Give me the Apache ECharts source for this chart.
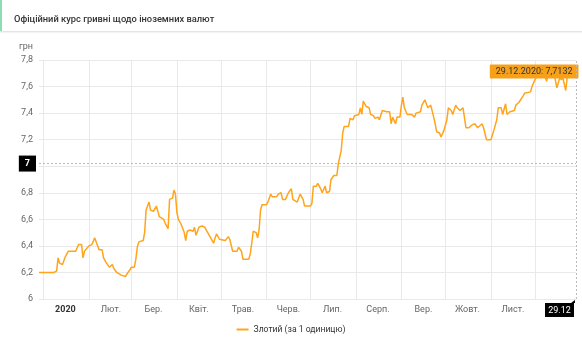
<!DOCTYPE html>
<html>
<head>
<meta charset="utf-8">
<script src="https://cdn.jsdelivr.net/npm/echarts@6/dist/echarts.min.js"></script>
<style>
html,body{margin:0;padding:0;background:#fff;}
#chart{width:582px;height:350px;}
</style>
</head>
<body>
<div id="chart"></div>
<script>
var titleText = 'Офіційний курс гривні щодо іноземних валют';
var seriesName = 'Злотий (за 1 одиницю)';
var unitLabel = 'грн';
var monthNames = ['2020','Лют.','Бер.','Квіт.','Трав.','Черв.','Лип.','Серп.','Вер.','Жовт.','Лист.','Груд.'];
var yTicks = [6, 6.2, 6.4, 6.6, 6.8, 7, 7.2, 7.4, 7.6, 7.8];
var startDate = '2019-12-29';
var endDate = '2020-12-29';
var lastLabel = '29.12.2020: 7,7132';
var pointerX = '2020-12-29';
var pointerXLabel = '29.12';
var pointerY = 7.02;
var pointerYLabel = '7';

var dates = [
'2019-12-29','2020-01-08','2020-01-10','2020-01-11','2020-01-12','2020-01-14','2020-01-16','2020-01-17','2020-01-18','2020-01-23',
'2020-01-24','2020-01-25','2020-01-27','2020-01-28','2020-01-29','2020-02-01','2020-02-03','2020-02-05','2020-02-06','2020-02-08',
'2020-02-10','2020-02-11','2020-02-13','2020-02-14','2020-02-15','2020-02-17','2020-02-18','2020-02-20','2020-02-21','2020-02-23',
'2020-02-26','2020-02-27','2020-02-29','2020-03-01','2020-03-03','2020-03-04','2020-03-05','2020-03-06','2020-03-09','2020-03-10',
'2020-03-11','2020-03-13','2020-03-14','2020-03-16','2020-03-18','2020-03-19','2020-03-20','2020-03-23','2020-03-24','2020-03-26',
'2020-03-27','2020-03-29','2020-03-30','2020-03-31','2020-04-01','2020-04-02','2020-04-03','2020-04-04','2020-04-06','2020-04-07',
'2020-04-08','2020-04-10','2020-04-12','2020-04-13','2020-04-14','2020-04-16','2020-04-18','2020-04-20','2020-04-22','2020-04-24',
'2020-04-26','2020-04-27','2020-04-28','2020-04-30','2020-05-04','2020-05-06','2020-05-07','2020-05-09','2020-05-12','2020-05-13',
'2020-05-15','2020-05-16','2020-05-20','2020-05-21','2020-05-22','2020-05-23','2020-05-25','2020-05-26','2020-05-27','2020-05-28',
'2020-05-29','2020-06-01','2020-06-02','2020-06-04','2020-06-05','2020-06-08','2020-06-09','2020-06-11','2020-06-12','2020-06-14',
'2020-06-16','2020-06-18','2020-06-19','2020-06-22','2020-06-23','2020-06-24','2020-06-26','2020-06-27','2020-07-01','2020-07-02',
'2020-07-03','2020-07-05','2020-07-06','2020-07-08','2020-07-09','2020-07-11','2020-07-12','2020-07-14','2020-07-15','2020-07-17',
'2020-07-19','2020-07-20','2020-07-22','2020-07-23','2020-07-24','2020-07-27','2020-07-28','2020-07-29','2020-07-30','2020-07-31',
'2020-08-03','2020-08-04','2020-08-05','2020-08-06','2020-08-08','2020-08-10','2020-08-11','2020-08-13','2020-08-14','2020-08-16',
'2020-08-17','2020-08-19','2020-08-22','2020-08-24','2020-08-25','2020-08-26','2020-08-28','2020-08-29','2020-08-31','2020-09-01',
'2020-09-02','2020-09-03','2020-09-05','2020-09-08','2020-09-10','2020-09-11','2020-09-14','2020-09-15','2020-09-17','2020-09-18',
'2020-09-19','2020-09-21','2020-09-23','2020-09-24','2020-09-25','2020-09-27','2020-09-28','2020-09-30','2020-10-01','2020-10-02',
'2020-10-03','2020-10-05','2020-10-06','2020-10-08','2020-10-09','2020-10-11','2020-10-13','2020-10-14','2020-10-15','2020-10-17',
'2020-10-19','2020-10-21','2020-10-23','2020-10-24','2020-10-26','2020-10-27','2020-10-28','2020-10-29','2020-11-01','2020-11-02',
'2020-11-03','2020-11-05','2020-11-06','2020-11-08','2020-11-09','2020-11-11','2020-11-12','2020-11-14','2020-11-15','2020-11-17',
'2020-11-18','2020-11-20','2020-11-21','2020-11-23','2020-11-24','2020-11-28','2020-11-29','2020-12-01','2020-12-03','2020-12-04',
'2020-12-07','2020-12-09','2020-12-10','2020-12-12','2020-12-14','2020-12-16','2020-12-18','2020-12-19','2020-12-20','2020-12-22',
'2020-12-23','2020-12-25','2020-12-29'
];
var values = [
6.20,6.20,6.21,6.31,6.27,6.26,6.32,6.34,6.36,6.36,
6.37,6.41,6.41,6.31,6.36,6.40,6.41,6.46,6.43,6.37,
6.37,6.31,6.27,6.28,6.24,6.26,6.23,6.20,6.19,6.18,
6.17,6.19,6.22,6.24,6.24,6.30,6.39,6.43,6.44,6.50,
6.67,6.73,6.67,6.66,6.70,6.66,6.62,6.60,6.57,6.53,
6.75,6.76,6.82,6.79,6.65,6.60,6.58,6.56,6.50,6.44,
6.51,6.52,6.51,6.54,6.48,6.54,6.55,6.54,6.50,6.46,
6.42,6.46,6.49,6.45,6.44,6.47,6.45,6.36,6.36,6.39,
6.36,6.30,6.30,6.34,6.42,6.51,6.50,6.46,6.52,6.67,
6.71,6.71,6.73,6.79,6.77,6.77,6.79,6.80,6.75,6.75,
6.80,6.83,6.75,6.73,6.73,6.79,6.75,6.70,6.70,6.72,
6.85,6.85,6.87,6.83,6.80,6.85,6.80,6.81,6.90,6.93,
6.93,7.02,7.12,7.25,7.30,7.30,7.36,7.37,7.35,7.38,
7.39,7.44,7.39,7.49,7.45,7.44,7.39,7.38,7.36,7.37,
7.35,7.42,7.41,7.41,7.32,7.37,7.32,7.37,7.37,7.46,
7.52,7.44,7.39,7.39,7.37,7.40,7.41,7.46,7.50,7.49,
7.44,7.46,7.37,7.32,7.26,7.25,7.22,7.27,7.31,7.35,
7.44,7.42,7.39,7.46,7.44,7.42,7.44,7.43,7.29,7.29,
7.31,7.32,7.29,7.29,7.32,7.29,7.29,7.20,7.20,7.20,
7.27,7.35,7.44,7.44,7.39,7.47,7.39,7.41,7.40,7.42,
7.46,7.48,7.48,7.53,7.55,7.56,7.60,7.65,7.70,7.71,
7.70,7.64,7.70,7.67,7.70,7.59,7.67,7.65,7.67,7.57,
7.67,7.67,7.7132
];

// daily category axis
function pad(n){return (n<10?'0':'')+n;}
var days = [];
(function(){
  var d = new Date(startDate + 'T00:00:00Z');
  var e = new Date(endDate + 'T00:00:00Z');
  while (d <= e) {
    days.push(d.getUTCFullYear() + '-' + pad(d.getUTCMonth()+1) + '-' + pad(d.getUTCDate()));
    d = new Date(d.getTime() + 86400000);
  }
})();

var seriesData = dates.map(function(dt, i){ return [dt, values[i]]; });

var chart = echarts.init(document.getElementById('chart'), null, {renderer: 'canvas'});
var FONT = 'Roboto, "Noto Sans", sans-serif';
var LINE = '#FFA41B';
var TIP = '#F7A11A';

var baseGraphic = [
  {type: 'rect', shape: {x: 0, y: 31, width: 582, height: 1}, style: {fill: '#e4e4e4'}, silent: true},
  {type: 'rect', shape: {x: 0, y: 32, width: 582, height: 1}, style: {fill: '#f3f3f3'}, silent: true},
  {type: 'rect', shape: {x: 0, y: 0, width: 2, height: 31}, style: {fill: '#8edbb5'}, silent: true}
];

chart.setOption({
  animation: false,
  textStyle: {fontFamily: FONT},
  title: {
    text: titleText,
    left: 9, top: 10,
    textStyle: {fontSize: 9.3, fontWeight: 500, color: '#333', fontFamily: FONT}
  },
  graphic: baseGraphic,
  grid: {left: 39, right: 6, top: 60, bottom: 51, containLabel: false},
  legend: {
    show: true,
    bottom: 11,
    left: 'center',
    icon: 'rect',
    itemWidth: 12,
    itemHeight: 2,
    itemGap: 6,
    textStyle: {fontSize: 8.6, color: '#333', fontFamily: FONT},
    data: [seriesName]
  },
  tooltip: {show: false},
  axisPointer: {triggerOn: 'none'},
  xAxis: {
    type: 'category',
    data: days,
    boundaryGap: false,
    axisLine: {show: false},
    axisTick: {show: false},
    splitLine: {
      show: true,
      interval: function(idx, val){ return val.slice(8) === '01' && val.slice(0,4) === '2020'; },
      lineStyle: {color: '#e9e9e9', width: 1}
    },
    axisLabel: {
      interval: function(idx, val){ return val.slice(8) === '16' && val.slice(5,7) !== '12'; },
      formatter: function(val){
        var m = parseInt(val.slice(5,7), 10) - 1;
        return m === 0 ? '{b|' + monthNames[0] + '}' : monthNames[m];
      },
      margin: 6,
      fontSize: 9,
      color: '#666',
      fontFamily: FONT,
      rich: {b: {fontWeight: 'bold', color: '#333', fontSize: 9, fontFamily: FONT}}
    },
    axisPointer: {
      show: true,
      status: 'show',
      value: pointerX,
      type: 'line',
      lineStyle: {color: '#bbb', type: [2, 2], width: 1},
      label: {show: false}
    }
  },
  yAxis: {
    type: 'value',
    min: yTicks[0],
    max: yTicks[yTicks.length-1],
    interval: 0.2,
    name: unitLabel,
    nameLocation: 'end',
    nameGap: 9,
    nameTextStyle: {fontSize: 9, color: '#666', align: 'right', padding: [0, 6, 0, 0], fontFamily: FONT},
    axisLine: {show: false},
    axisTick: {show: false},
    splitLine: {lineStyle: {color: '#e9e9e9', width: 1}},
    axisLabel: {
      fontSize: 9,
      color: '#666',
      margin: 6,
      fontFamily: FONT,
      formatter: function(v){ return (Math.round(v*10)/10).toString().replace('.', ','); }
    },
    axisPointer: {
      show: true,
      status: 'show',
      value: pointerY,
      type: 'line',
      lineStyle: {color: '#bbb', type: [2, 2], width: 1},
      label: {
        show: true,
        formatter: function(){ return pointerYLabel; },
        backgroundColor: '#000',
        color: '#fff',
        fontSize: 9,
        fontWeight: 'bold',
        fontFamily: FONT,
        padding: [4, 6, 3, 6],
        margin: 3,
        borderRadius: 0
      }
    }
  },
  series: [{
    name: seriesName,
    type: 'line',
    data: seriesData,
    showSymbol: false,
    symbol: 'none',
    lineStyle: {color: LINE, width: 1.5},
    itemStyle: {color: LINE},
    markPoint: {
      silent: true,
      data: [{
        coord: [dates[dates.length-1], values[values.length-1]],
        symbol: 'triangle',
        symbolSize: [8, 5],
        symbolRotate: -90,
        symbolOffset: [-1, 0],
        itemStyle: {color: TIP},
        label: {
          show: true,
          position: 'left',
          distance: 0,
          offset: [6, 0],
          formatter: function(){ return lastLabel; },
          backgroundColor: TIP,
          color: '#333',
          fontSize: 9,
          fontFamily: FONT,
          padding: [3, 6, 2, 6],
          borderRadius: 1
        }
      }]
    }
  }]
});

// x-axis crosshair label, positioned from the axis scale and confined to the chart
(function(){
  var px = chart.convertToPixel({xAxisIndex: 0}, pointerX);
  var py = chart.convertToPixel({yAxisIndex: 0}, yTicks[0]);
  var boxW = 29, boxH = 14;
  var right = Math.min(px - 2, chart.getWidth() - 6);
  chart.setOption({
    graphic: baseGraphic.concat([{
      type: 'group',
      silent: true,
      children: [
        {type: 'rect', shape: {x: right - boxW, y: py + 4, width: boxW, height: boxH}, style: {fill: '#000'}},
        {type: 'polygon', shape: {points: [[right - 3, py + 4], [right + 1, py + 1], [right + 1, py + 4]]}, style: {fill: '#000'}},
        {type: 'text', style: {x: right - boxW / 2, y: py + 4 + boxH / 2 + 0.5, text: pointerXLabel, fill: '#fff', font: '9px ' + FONT, textAlign: 'center', textVerticalAlign: 'middle'}}
      ]
    }])
  });
})();
</script>
</body>
</html>
